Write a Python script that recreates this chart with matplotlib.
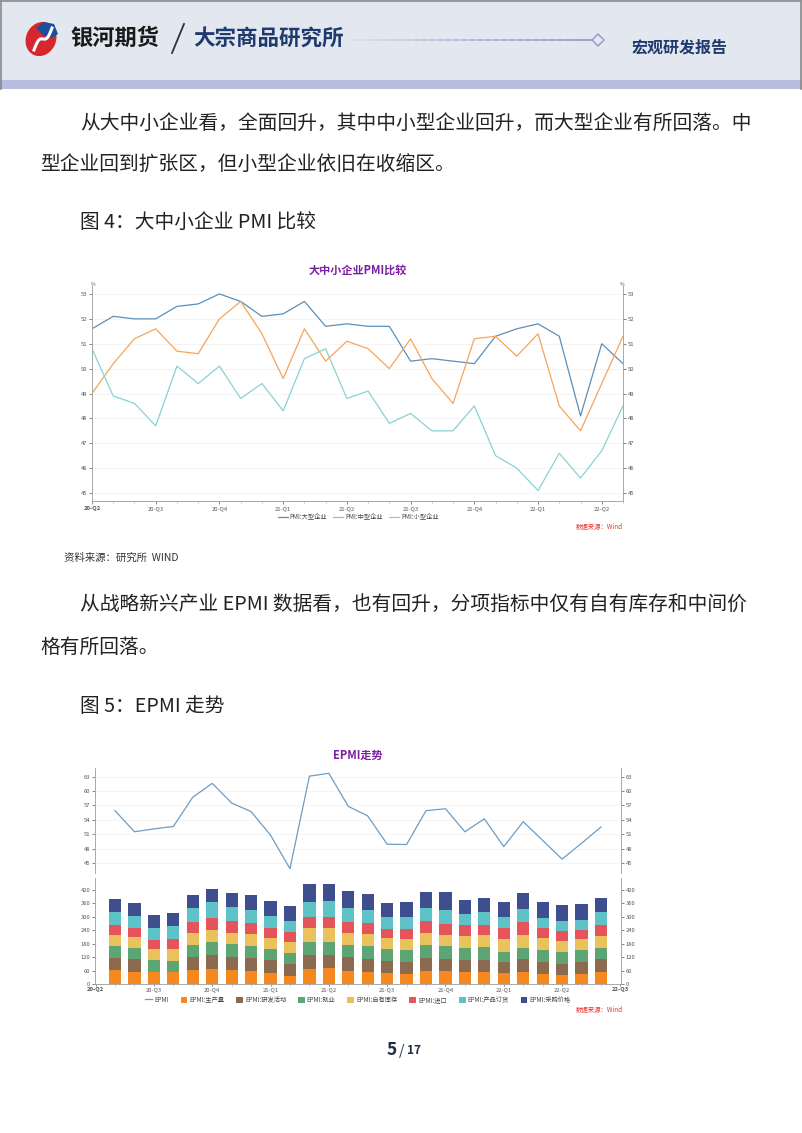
import matplotlib
matplotlib.use('Agg')
import matplotlib.pyplot as plt
import numpy as np
from matplotlib.patches import Rectangle, Polygon, Ellipse
from matplotlib.lines import Line2D
from matplotlib.ticker import FixedLocator

plt.rcParams['font.family'] = ['Noto Sans CJK SC', 'DejaVu Sans']

# ---------------- data ----------------
pmi_quarters = ['20-Q2', '20-Q3', '20-Q4', '21-Q1', '21-Q2', '21-Q3', '21-Q4', '22-Q1', '22-Q2']
pmi_large = [51.6, 52.1, 52.0, 52.0, 52.5, 52.6, 53.0, 52.7, 52.1, 52.2, 52.7, 51.7, 51.8,
             51.7, 51.7, 50.3, 50.4, 50.3, 50.2, 51.3, 51.6, 51.8, 51.3, 48.1, 51.0, 50.2]
pmi_medium = [49.0, 50.2, 51.2, 51.6, 50.7, 50.6, 52.0, 52.7, 51.4, 49.6, 51.6, 50.3, 51.1,
              50.8, 50.0, 51.2, 49.6, 48.6, 51.2, 51.3, 50.5, 51.4, 48.5, 47.5, 49.4, 51.3]
pmi_small = [50.8, 48.9, 48.6, 47.7, 50.1, 49.4, 50.1, 48.8, 49.4, 48.3, 50.4, 50.8, 48.8,
             49.1, 47.8, 48.2, 47.5, 47.5, 48.5, 46.5, 46.0, 45.1, 46.6, 45.6, 46.7, 48.5]

epmi_quarters = ['20-Q2', '20-Q3', '20-Q4', '21-Q1', '21-Q2', '21-Q3', '21-Q4', '22-Q1', '22-Q2', '22-Q3']
epmi = [55.9, 51.5, 52.1, 52.6, 58.7, 61.6, 57.5, 55.7, 50.8, 43.8, 63.1, 63.7, 56.8,
        54.8, 48.9, 48.85, 55.9, 56.3, 51.5, 54.2, 48.4, 53.6, 49.7, 45.8, 49.1, 52.5]
epmi_production = [62.6, 53.6, 53.6, 53.6, 62.6, 67.0, 61.1, 56.6, 49.2, 35.7, 67.0, 71.5, 59.6,
                   55.1, 47.7, 46.2, 59.6, 56.6, 53.6, 53.6, 47.7, 53.6, 46.2, 41.7, 46.2, 53.6]
epmi_rd = [53.6, 56.6, 0, 0, 56.6, 62.6, 58.1, 59.6, 58.1, 53.6, 61.1, 58.1, 59.6,
           58.1, 56.6, 53.6, 55.1, 56.6, 53.6, 53.6, 52.1, 56.6, 52.1, 47.7, 52.1, 56.6]
epmi_employment = [52.1, 50.6, 53.6, 50.6, 55.1, 58.1, 58.1, 55.1, 49.2, 47.7, 61.1, 59.6, 55.1,
                   56.6, 50.6, 52.1, 58.1, 55.1, 52.1, 56.6, 44.7, 49.2, 53.6, 52.1, 52.1, 52.1]
epmi_inventory = [52.1, 50.6, 49.2, 52.1, 52.1, 55.1, 50.6, 50.6, 47.7, 49.2, 61.1, 59.6, 55.1,
                  53.6, 49.2, 50.6, 56.6, 52.1, 55.1, 53.6, 55.1, 61.1, 53.6, 50.6, 52.1, 52.1]
epmi_import = [41.7, 38.7, 40.2, 44.7, 49.2, 53.6, 55.1, 52.1, 44.7, 47.7, 50.6, 52.1, 49.2,
               47.7, 43.2, 44.7, 52.1, 49.2, 47.7, 47.7, 50.6, 56.6, 44.7, 46.2, 38.7, 47.7]
epmi_orders = [59.6, 53.6, 55.1, 58.1, 62.6, 68.5, 61.1, 55.1, 53.6, 47.7, 67.0, 70.0, 61.1,
               59.6, 50.6, 50.6, 59.6, 61.1, 50.6, 58.1, 50.6, 56.6, 46.2, 43.2, 46.2, 58.1]
epmi_purchase_price = [56.6, 56.6, 56.6, 56.6, 61.1, 61.1, 61.1, 70.0, 70.0, 67.0, 78.9, 77.5, 77.5,
                       71.5, 62.6, 70.0, 70.0, 78.9, 62.6, 59.6, 64.0, 74.5, 71.5, 71.5, 70.0, 64.0]

series_names = ['EPMI:生产量', 'EPMI:研发活动', 'EPMI:就业', 'EPMI:自有库存',
                'EPMI:进口', 'EPMI:产品订货', 'EPMI:采购价格']
series_vals = [epmi_production, epmi_rd, epmi_employment, epmi_inventory,
               epmi_import, epmi_orders, epmi_purchase_price]
series_colors = ['#F5891F', '#8B6A50', '#5DA673', '#E9C25B', '#E5545A', '#5EC3C6', '#3E4E8E']

# ---------------- figure ----------------
W, H = 802, 1133
fig = plt.figure(figsize=(W / 100, H / 100), dpi=100)


def fx(x):
    return x / W


def fy(y):
    return 1 - y / H


# header
fig.patches.append(Rectangle((0, fy(80)), 1, 80 / H, transform=fig.transFigure,
                             facecolor='#E3E7EF', edgecolor='none', zorder=-2))
fig.patches.append(Rectangle((0, fy(89)), 1, 9 / H, transform=fig.transFigure,
                             facecolor='#B8BEDF', edgecolor='none', zorder=-2))
for seg in ([(1, 89), (1, 1)], [(1, 1), (801, 1)], [(801, 1), (801, 89)]):
    fig.lines.append(Line2D([fx(p[0]) for p in seg], [fy(p[1]) for p in seg],
                            transform=fig.transFigure, color='#8A8A8A', lw=1.2, zorder=-1))

# logo
axl = fig.add_axes([fx(22), fy(58), 38 / W, 38 / H])
axl.set_zorder(10)
axl.set_xlim(0, 38)
axl.set_ylim(0, 38)
axl.axis('off')
axl.add_patch(Ellipse((19, 19), 30, 35, angle=-25, facecolor='#D8262E', edgecolor='none'))
axl.add_patch(Polygon([[14, 30], [22, 36], [32, 34], [36, 24], [30, 20], [22, 22], [18, 26]],
                      closed=True, facecolor='#1C4F9E', edgecolor='none'))
t = np.linspace(0, 1, 40)
axl.plot(12 + 18 * t, 8 + 22 * t + 4 * np.sin(t * 2 * np.pi), color='white', lw=2.2)

fig.text(fx(70), fy(38), '银河期货', fontsize=16, fontweight='bold', color='#1A1A1A', va='center')
fig.lines.append(Line2D([fx(172), fx(184)], [fy(53), fy(24)], transform=fig.transFigure,
                        color='#333333', lw=1.3))
fig.text(fx(193), fy(38), '大宗商品研究所', fontsize=15.5, fontweight='bold', color='#1F3A6E', va='center')
n_seg = 30
xs = np.linspace(352, 592, n_seg + 1)
for i in range(n_seg):
    fig.lines.append(Line2D([fx(xs[i]), fx(xs[i + 1])], [fy(40), fy(40)], transform=fig.transFigure,
                            color='#8C98C6', alpha=0.1 + 0.9 * i / n_seg, lw=1.2))
fig.patches.append(Polygon([[fx(592), fy(40)], [fx(598), fy(34)], [fx(604), fy(40)], [fx(598), fy(46)]],
                           closed=True, transform=fig.transFigure, facecolor='#E3E7EF',
                           edgecolor='#8C98C6', lw=1.0))
fig.text(fx(632), fy(47), '宏观研发报告', fontsize=11.5, fontweight='bold', color='#1F3A6E', va='center')

# body text
body_kw = dict(fontsize=14.2, color='#222222', va='center', fontweight='light')
fig.text(fx(80), fy(123), '从大中小企业看，全面回升，其中中小型企业回升，而大型企业有所回落。中', **body_kw)
fig.text(fx(40), fy(165), '型企业回到扩张区，但小型企业依旧在收缩区。', **body_kw)
fig.text(fx(80), fy(222), '图 4：大中小企业 PMI 比较', **body_kw)
fig.text(fx(64), fy(558), '资料来源：研究所  WIND', fontsize=7.5, color='#333333', va='center',
         fontweight='light')
fig.text(fx(80), fy(605), '从战略新兴产业 EPMI 数据看，也有回升，分项指标中仅有自有库存和中间价', **body_kw)
fig.text(fx(40), fy(647), '格有所回落。', **body_kw)
fig.text(fx(80), fy(706), '图 5：EPMI 走势', **body_kw)

tick_kw = dict(labelsize=4.2, colors='#555555', length=2, width=0.5, pad=1.5)
spine_c = '#A9A9A9'

# ---------------- chart 1 ----------------
ax1 = fig.add_axes([fx(92), fy(501), 531 / W, 215 / H])
x1 = np.arange(len(pmi_large))
ax1.plot(x1, pmi_large, color='#5A90BA', lw=0.9, label='PMI:大型企业')
ax1.plot(x1, pmi_medium, color='#F6A45C', lw=0.9, label='PMI:中型企业')
ax1.plot(x1, pmi_small, color='#8AD2D2', lw=0.9, label='PMI:小型企业')
ax1.set_xlim(0, 25)
ax1.set_ylim(44.68, 53.32)
ax1.set_yticks(np.arange(45, 54, 1))
ax1.tick_params(axis='y', which='both', left=True, right=True, labelleft=True, labelright=True, **tick_kw)
ax1.set_xticks(np.arange(0, 25, 3))
ax1.set_xticklabels(pmi_quarters)
ax1.xaxis.set_minor_locator(FixedLocator(np.arange(0, 26, 1)))
ax1.tick_params(axis='x', which='major', **tick_kw)
ax1.tick_params(axis='x', which='minor', length=1.5, width=0.4, colors='#999999')
ax1.get_xticklabels()[0].set_fontweight('bold')
ax1.yaxis.grid(True, color='#F0F0F0', lw=0.5)
ax1.set_axisbelow(True)
for s in ['left', 'right', 'bottom']:
    ax1.spines[s].set_color(spine_c)
    ax1.spines[s].set_linewidth(0.7)
ax1.spines['top'].set_visible(False)
fig.text(fx(93), fy(284), '%', fontsize=3.5, color='#555555', ha='center', va='center')
fig.text(fx(622), fy(284), '%', fontsize=3.5, color='#555555', ha='center', va='center')
fig.text(fx(358), fy(270), '大中小企业PMI比较', fontsize=8, fontweight='bold', color='#7A1FA0',
         ha='center', va='center')
fig.legend(handles=ax1.get_lines(), loc='center', bbox_to_anchor=(fx(358), fy(517)), ncol=3,
           fontsize=4.5, frameon=False, handlelength=1.6, columnspacing=1.0, handletextpad=0.3,
           labelcolor='#444444')
fig.text(fx(623), fy(527), '数据来源：Wind', fontsize=4.6, style='italic', color='#E53935',
         ha='right', va='center')

# ---------------- chart 2 ----------------
x2 = np.arange(len(epmi))
ax2 = fig.add_axes([fx(95), fy(873), 526 / W, 105 / H])
ax2.plot(x2, epmi, color='#6E9CC2', lw=0.9)
ax2.set_xlim(-1.03, 26.03)
ax2.set_ylim(42.9, 64.8)
ax2.set_yticks(np.arange(45, 64, 3))
ax2.tick_params(axis='y', left=True, right=True, labelleft=True, labelright=True, **tick_kw)
ax2.set_xticks([])
ax2.yaxis.grid(True, color='#F0F0F0', lw=0.5)
for s in ['left', 'right']:
    ax2.spines[s].set_color(spine_c)
    ax2.spines[s].set_linewidth(0.7)
ax2.spines['top'].set_visible(False)
ax2.spines['bottom'].set_visible(False)

ax3 = fig.add_axes([fx(95), fy(984), 526 / W, 106 / H])
bottom = np.zeros(len(epmi))
bar_handles = []
for name, vals, col in zip(series_names, series_vals, series_colors):
    vals = np.array(vals, dtype=float)
    b = ax3.bar(x2, vals, width=0.63, bottom=bottom, color=col, label=name, linewidth=0)
    bar_handles.append(b)
    bottom = bottom + vals
ax3.set_xlim(-1.03, 26.03)
ax3.set_ylim(0, 473.6)
ax3.set_yticks(np.arange(0, 421, 60))
ax3.tick_params(axis='y', left=True, right=True, labelleft=True, labelright=True, **tick_kw)
ax3.set_xticks(np.arange(-1, 27, 3))
ax3.set_xticklabels(epmi_quarters)
ax3.xaxis.set_minor_locator(FixedLocator(np.arange(-1, 27, 1)))
ax3.tick_params(axis='x', which='major', labelsize=4.2, colors='#555555', length=1.5, width=0.5, pad=1)
ax3.tick_params(axis='x', which='minor', length=1.2, width=0.4, colors='#999999')
ax3.get_xticklabels()[0].set_fontweight('bold')
ax3.get_xticklabels()[-1].set_fontweight('bold')
for s in ['left', 'right', 'bottom']:
    ax3.spines[s].set_color(spine_c)
    ax3.spines[s].set_linewidth(0.7)
ax3.spines['top'].set_visible(False)

fig.text(fx(358), fy(755), 'EPMI走势', fontsize=8, fontweight='bold', color='#7A1FA0',
         ha='center', va='center')
line_handle = Line2D([], [], color='#6E9CC2', lw=0.9, label='EPMI')
fig.legend(handles=[line_handle] + bar_handles, loc='center', bbox_to_anchor=(fx(358), fy(1000)),
           ncol=8, fontsize=4.5, frameon=False, handlelength=1.1, handleheight=1.1, columnspacing=1.9,
           handletextpad=0.3, labelcolor='#444444')
fig.text(fx(623), fy(1010), '数据来源：Wind', fontsize=4.6, style='italic', color='#E53935',
         ha='right', va='center')

# footer
fig.text(fx(397), fy(1050), '5', fontsize=12.5, fontweight='bold', color='#1F2A44', ha='right', va='center')
fig.text(fx(402), fy(1051), '/', fontsize=10, color='#1F2A44', ha='center', va='center')
fig.text(fx(407), fy(1051), '17', fontsize=8.5, fontweight='bold', color='#1F2A44', ha='left', va='center')

fig.savefig('out.png', dpi=100)
